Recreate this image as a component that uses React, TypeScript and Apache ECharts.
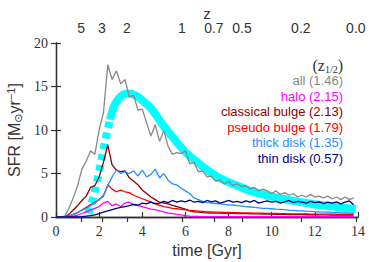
import React, { useEffect, useRef } from "react";
import * as echarts from "echarts";

const times = [0, 0.2, 0.4, 0.6, 0.8, 1, 1.2, 1.4, 1.6, 1.8, 2, 2.2, 2.4, 2.6, 2.8, 3, 3.2, 3.4, 3.6, 3.8, 4, 4.2, 4.4, 4.6, 4.8, 5, 5.2, 5.4, 5.6, 5.8, 6, 6.2, 6.4, 6.6, 6.8, 7, 7.2, 7.4, 7.6, 7.8, 8, 8.2, 8.4, 8.6, 8.8, 9, 9.2, 9.4, 9.6, 9.8, 10, 10.2, 10.4, 10.6, 10.8, 11, 11.2, 11.4, 11.6, 11.8, 12, 12.2, 12.4, 12.6, 12.8, 13, 13.2, 13.4, 13.6, 13.8];

const allSfr = [0, 0, 0.1, 1.0, 2.2, 3.6, 5.5, 6.4, 7.6, 7.2,
  10.0, 12.0, 17.5, 15.8, 16.8, 15.3, 15.8, 13.8, 14.0, 12.3,
  12.4, 10.8, 9.3, 10.6, 8.7, 9.9, 8.1, 7.2, 7.4, 7.3,
  7.6, 6.1, 6.3, 5.2, 5.3, 4.6, 4.7, 4.1, 4.3, 3.8,
  4.1, 3.6, 3.8, 3.5, 3.6, 3.2, 3.4, 3.0, 3.2, 3.0,
  2.7, 3.0, 2.6, 2.8, 2.5, 2.7, 2.3, 2.5, 2.3, 2.6,
  2.3, 2.4, 2.2, 2.4, 2.1, 2.3, 2.0, 2.3, 2.0, 2.2];

const haloSfr = [0, 0, 0, 0, 0.1, 0.2, 0.4, 0.6, 0.8, 1.0,
  1.2, 1.6, 1.8, 1.3, 1.5, 1.2, 1.6, 1.7, 1.4, 1.3,
  1.2, 1.05, 0.9, 0.85, 0.7, 0.6, 0.45, 0.4, 0.3, 0.25,
  0.15, 0.1, 0.08, 0.06, 0.05, 0.05, 0.04, 0.05, 0.04, 0.04,
  0.03, 0.04, 0.03, 0.04, 0.03, 0.03, 0.04, 0.03, 0.03, 0.04,
  0.03, 0.03, 0.04, 0.03, 0.03, 0.03, 0.04, 0.03, 0.03, 0.03,
  0.03, 0.04, 0.03, 0.03, 0.03, 0.03, 0.04, 0.03, 0.03, 0.03];

const classicalSfr = [0, 0, 0, 0.3, 0.8, 1.3, 1.9, 2.4, 3.4, 3.6,
  4.6, 6.3, 8.3, 6.0, 5.4, 5.2, 5.3, 4.5, 4.1, 3.7,
  3.1, 2.7, 2.3, 2.0, 1.7, 1.6, 1.5, 1.35, 1.2, 1.05,
  0.9, 0.7, 0.6, 0.55, 0.5, 0.48, 0.46, 0.45, 0.44, 0.43,
  0.42, 0.41, 0.4, 0.39, 0.38, 0.37, 0.36, 0.35, 0.34, 0.33,
  0.32, 0.31, 0.3, 0.3, 0.29, 0.28, 0.28, 0.27, 0.26, 0.26,
  0.25, 0.25, 0.24, 0.24, 0.23, 0.23, 0.22, 0.22, 0.21, 0.21];

const pseudoSfr = [0, 0, 0, 0.1, 0.3, 0.5, 0.8, 1.1, 1.4, 1.7,
  2.0, 2.4, 3.7, 3.2, 2.9, 3.1, 2.9, 2.8, 2.5, 2.3,
  2.1, 1.9, 1.7, 1.5, 1.35, 1.2, 1.1, 1.0, 0.95, 0.88,
  0.82, 0.76, 0.72, 0.68, 0.64, 0.6, 0.58, 0.56, 0.55, 0.53,
  0.52, 0.5, 0.49, 0.48, 0.47, 0.46, 0.45, 0.44, 0.43, 0.42,
  0.41, 0.4, 0.39, 0.38, 0.37, 0.37, 0.36, 0.35, 0.35, 0.34,
  0.34, 0.33, 0.33, 0.32, 0.32, 0.31, 0.31, 0.3, 0.3, 0.3];

const thickSfr = [0, 0, 0, 0.1, 0.3, 0.5, 0.8, 1.0, 1.3, 1.6,
  2.0, 2.5, 3.6, 4.6, 5.4, 5.0, 5.2, 5.0, 5.3, 4.7,
  5.4, 4.6, 4.9, 5.5, 4.5, 5.0, 4.2, 3.8, 3.7, 3.3,
  3.0, 2.7, 2.2, 2.0, 1.8, 1.65, 1.6, 1.55, 1.5, 1.45,
  1.4, 1.38, 1.3, 1.25, 1.2, 1.15, 1.1, 1.05, 1.0, 1.0,
  0.95, 0.9, 0.88, 0.85, 0.8, 0.77, 0.72, 0.7, 0.67, 0.65,
  0.62, 0.6, 0.57, 0.55, 0.52, 0.5, 0.48, 0.46, 0.44, 0.42];

const thinSfr = [0, 0, 0, 0, 0, 0.02, 0.05, 0.1, 0.15, 0.25,
  0.4, 0.55, 0.7, 0.85, 1.0, 1.1, 1.2, 1.3, 1.45, 1.35,
  1.6, 1.5, 1.7, 1.55, 1.6, 1.8, 1.65, 1.9, 1.7, 1.85,
  1.75, 1.95, 1.7, 1.8, 1.65, 1.9, 1.75, 1.85, 1.6, 1.75,
  1.9, 1.7, 1.8, 1.65, 1.85, 1.7, 1.9, 1.6, 1.75, 1.85,
  1.7, 1.8, 1.6, 1.75, 1.9, 1.65, 1.8, 1.7, 1.6, 1.8,
  1.65, 1.75, 1.55, 1.7, 1.6, 1.75, 1.5, 1.7, 1.85, 1.4];

const modelDashT = [1.5, 1.75, 2.0, 2.25, 2.5];
const modelDashV = [0.4, 2.4, 5.2, 8.4, 11.2];
const modelT = [2.5, 2.7, 2.9, 3.1, 3.3, 3.5, 3.8, 4.1, 4.4, 4.7, 5.0, 5.4, 5.8, 6.2, 6.6, 7.0, 7.5, 8.0, 8.5, 9.0, 9.5, 10.0, 10.5, 11.0, 11.5, 12.0, 12.5, 13.0, 13.5, 13.9];
const modelV = [11.2, 12.8, 13.6, 14.05, 14.2, 14.15, 13.8, 13.2, 12.5, 11.5, 10.4, 9.2, 8.0, 7.0, 6.2, 5.4, 4.6, 4.0, 3.5, 3.0, 2.65, 2.35, 2.1, 1.85, 1.65, 1.45, 1.3, 1.15, 1.0, 0.9];

const zLabels = ["5", "3", "2", "1", "0.7", "0.5", "0.2", "0.0"];
const zTickTimes = [1.16, 2.13, 3.29, 5.84, 7.32, 8.62, 11.35, 13.9];

const legendNames = ["all", "halo", "classical bulge", "pseudo bulge", "thick disk", "thin disk"];
const legendZHalf = ["1.46", "2.15", "2.13", "1.79", "1.35", "0.57"];
const seriesColors = ["#888888", "#ff00ff", "#8b0000", "#ff0000", "#1e90ff", "#000080"];

const SANS = "Liberation Sans";
const SERIF = "Liberation Serif";
const INK = "#333333";

function pairs(xs: number[], ys: number[]) {
  return xs.map((x, i) => [x, ys[i]]);
}

export default function App() {
  const ref = useRef<HTMLDivElement>(null);
  useEffect(() => {
    if (!ref.current) return;
    const chart = echarts.init(ref.current, undefined, { renderer: "svg" });
    const seriesValues = [allSfr, haloSfr, classicalSfr, pseudoSfr, thickSfr, thinSfr];
    const frame = { show: true, lineStyle: { color: INK, width: 1.3 } };
    const tick = { show: true, inside: true, length: 5, lineStyle: { color: INK, width: 1.2 } };
    const legendTop = 65;
    const legendStep = 15.5;
    const graphics: any[] = [
      {
        type: "text",
        x: 343,
        y: legendTop,
        style: {
          text: "(z{sub|1/2})",
          fill: INK,
          font: `16px ${SERIF}`,
          align: "right",
          verticalAlign: "middle",
          rich: { sub: { fontSize: 10, fontFamily: SERIF, fill: INK, padding: [8, 0, 0, 0] } },
        },
        z: 100,
      },
    ];
    legendNames.forEach((n, i) => {
      graphics.push({
        type: "text",
        x: 343,
        y: legendTop + legendStep * (i + 1),
        style: {
          text: `${n} (${legendZHalf[i]})`,
          fill: seriesColors[i],
          font: `13px ${SANS}`,
          align: "right",
          verticalAlign: "middle",
        },
        z: 100,
      });
    });

    const option: any = {
      animation: false,
      backgroundColor: "#ffffff",
      grid: { left: 56, right: 16, top: 43, bottom: 45, containLabel: false, outerBoundsMode: "none" },
      xAxis: [
        {
          type: "value",
          min: 0,
          max: 14,
          interval: 2,
          position: "bottom",
          axisLine: frame,
          axisTick: tick,
          splitLine: { show: false },
          axisLabel: { fontFamily: SERIF, fontSize: 14, color: INK, margin: 7 },
          name: "time [Gyr]",
          nameLocation: "middle",
          nameGap: 25,
          nameMoveOverlap: false,
          nameTextStyle: { fontFamily: SANS, fontSize: 16, color: INK },
        },
        {
          type: "value",
          min: 0,
          max: 14,
          position: "top",
          axisLine: frame,
          axisTick: { ...tick, customValues: zTickTimes },
          splitLine: { show: false },
          axisLabel: {
            customValues: zTickTimes,
            fontFamily: SANS,
            fontSize: 14,
            lineHeight: 12,
            color: INK,
            margin: 9,
            formatter: (v: number) => {
              const i = zTickTimes.findIndex((t) => Math.abs(t - v) < 1e-6);
              return i >= 0 ? zLabels[i] : "";
            },
          },
          name: "z",
          nameLocation: "middle",
          nameGap: 24,
          nameMoveOverlap: false,
          nameTextStyle: { fontFamily: SANS, fontSize: 15, color: INK, lineHeight: 12 },
        },
      ],
      yAxis: [
        {
          type: "value",
          min: 0,
          max: 20,
          interval: 5,
          position: "left",
          axisLine: frame,
          axisTick: tick,
          splitLine: { show: false },
          axisLabel: { fontFamily: SERIF, fontSize: 14, color: INK, margin: 8 },
          name: "SFR [M{sub|⊙}yr{sup|−1}]",
          nameLocation: "middle",
          nameGap: 32,
          nameMoveOverlap: false,
          nameTextStyle: {
            fontFamily: SANS,
            fontSize: 16,
            color: INK,
            rich: {
              sub: { fontFamily: "DejaVu Sans", fontSize: 11, color: INK, padding: [8, 0, 0, 0] },
              sup: { fontFamily: SANS, fontSize: 11, color: INK, padding: [0, 0, 8, 0] },
            },
          },
        },
        {
          type: "value",
          min: 0,
          max: 20,
          interval: 5,
          position: "right",
          axisLine: frame,
          axisTick: tick,
          splitLine: { show: false },
          axisLabel: { show: false },
        },
      ],
      graphic: graphics,
      series: [
        {
          type: "line",
          data: pairs(modelDashT, modelDashV),
          showSymbol: false,
          symbol: "none",
          lineStyle: { color: "#00ffff", width: 8, type: [6, 5], cap: "butt" },
          z: 1,
        },
        {
          type: "line",
          data: pairs(modelT, modelV),
          showSymbol: false,
          symbol: "none",
          smooth: 0.3,
          lineStyle: { color: "#00ffff", width: 8, cap: "butt" },
          z: 1,
        },
        ...seriesValues.map((vals, i) => ({
          type: "line",
          data: pairs(times, vals),
          showSymbol: false,
          symbol: "none",
          lineStyle: { color: seriesColors[i], width: 1.3 },
          z: 2 + i,
        })),
      ],
    };
    chart.setOption(option);
    return () => chart.dispose();
  }, []);
  return (
    <div
      ref={ref}
      style={{ position: "fixed", left: 0, top: 0, width: 374, height: 262, background: "#fff" }}
    />
  );
}
